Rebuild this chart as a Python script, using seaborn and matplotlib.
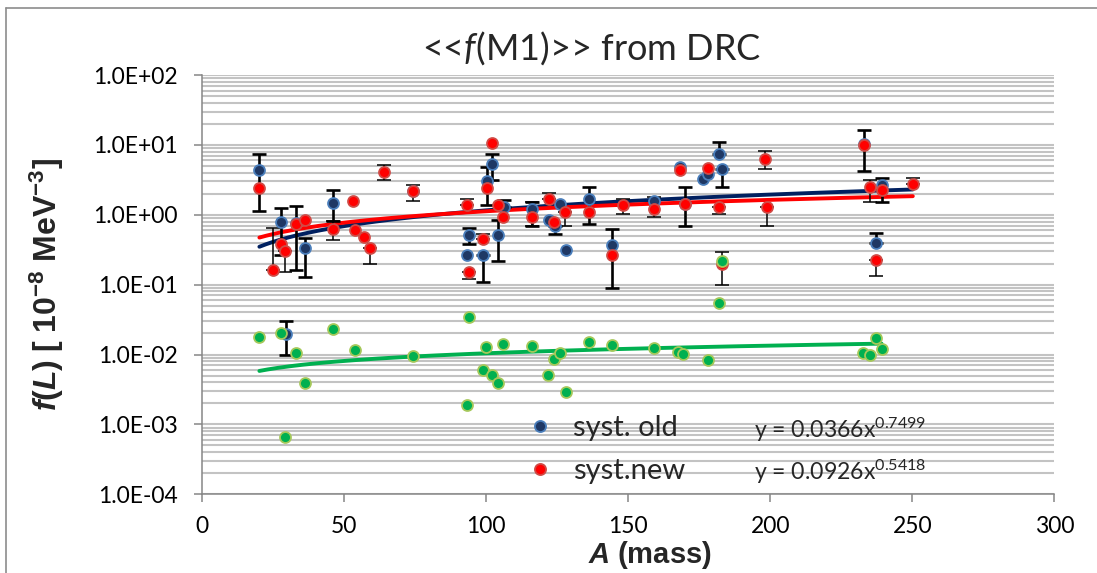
import numpy as np
import pandas as pd
import matplotlib
matplotlib.use("Agg")
import matplotlib.pyplot as plt
import seaborn as sns
from matplotlib.lines import Line2D
from matplotlib.ticker import FixedLocator, FuncFormatter, LogLocator, NullFormatter

nan = np.nan

# ---------------- data ----------------
old_x = [20.2, 27.9, 29.6, 33.0, 36.3, 46.2, 74.2, 93.2, 94.1, 99.0, 100.2, 102.0, 104.1, 106.3, 116.1,
         122.1, 124.1, 126.0, 128.0, 136.2, 144.2, 159.2, 168.3, 170.0, 176.2, 178.2, 182.1, 182.9,
         233.1, 237.2, 239.2]
old_y = [4.30, 0.784, 0.0199, 0.751, 0.333, 1.49, 2.20, 0.262, 0.521, 0.262, 3.09, 5.37, 0.521, 1.31, 1.22,
         0.83, 0.68, 1.44, 0.309, 1.69, 0.364, 1.60, 4.80, 1.44, 3.20, 3.86, 7.29, 4.45,
         10.4, 0.392, 2.69]
old_lo = [1.15, 0.262, 0.00993, 0.160, 0.128, 0.81, nan, nan, 0.385, 0.109, 1.36, 3.17, 0.217, nan, 0.68,
          nan, 0.535, nan, nan, 0.73, 0.089, nan, nan, 0.70, nan, nan, nan, 2.48,
          4.2, nan, 1.53]
old_hi = [7.29, 1.26, 0.0298, 1.33, 0.47, 2.23, nan, nan, 0.652, nan, 4.8, 7.46, 0.83, 1.64, 1.51,
          nan, nan, nan, nan, 2.48, 0.63, nan, nan, 2.48, nan, nan, 10.9, nan,
          16.1, 0.553, 3.34]

new_x = [20.2, 25.1, 27.9, 29.1, 33.0, 36.3, 46.2, 53.0, 54.0, 57.1, 59.0, 64.2, 74.2, 93.2, 94.1,
         99.0, 100.2, 102.0, 104.1, 106.1, 116.1, 122.1, 124.0, 127.7, 136.2, 144.2, 148.1, 159.2,
         168.1, 170.0, 178.2, 182.1, 183.0, 198.1, 199.0, 233.1, 235.1, 237.2, 239.2, 250.2]
new_y = [2.43, 0.163, 0.385, 0.301, 0.727, 0.848, 0.616, 1.55, 0.596, 0.478, 0.333, 4.07, 2.18, 1.40, 0.151,
         0.443, 2.43, 10.6, 1.36, 0.924, 0.924, 1.66, 0.784, 1.09, 1.09, 0.27, 1.36, 1.22,
         4.30, 1.44, 4.64, 1.31, 0.199, 6.33, 1.31, 9.80, 2.48, 0.229, 2.23, 2.78]
new_lo = [nan, nan, nan, 0.151, nan, nan, 0.429, nan, nan, nan, 0.199, 3.1, 1.6, nan, 0.122,
          nan, nan, nan, nan, nan, 0.68, nan, nan, 0.70, nan, nan, 1.03, 0.92,
          nan, nan, nan, 1.03, 0.10, 4.45, 0.70, nan, 1.51, 0.131, nan, nan]
new_hi = [nan, 0.652, nan, nan, nan, nan, 0.81, nan, nan, nan, nan, 5.07, 2.71, 1.69, nan,
          0.535, nan, nan, nan, nan, 1.51, 2.06, nan, nan, nan, nan, 1.69, 1.79,
          nan, nan, nan, nan, 0.292, 8.13, nan, nan, 3.10, nan, nan, 3.38]

green_x = [20.2, 27.9, 29.1, 33.1, 36.3, 46.2, 54.0, 74.2, 94.1, 93.2, 100.0, 99.0, 102.1, 104.1, 106.1,
           116.1, 121.9, 123.9, 126.0, 128.0, 136.2, 144.2, 159.2, 167.7, 169.2, 178.2, 182.1, 183.0,
           232.8, 235.1, 237.2, 239.2]
green_y = [0.0177, 0.0202, 0.000658, 0.0106, 0.00395, 0.0234, 0.0118, 0.0094, 0.0343, 0.00187, 0.0128,
           0.00593, 0.00502, 0.00395, 0.0143, 0.0132, 0.00502, 0.0087, 0.0106, 0.0029, 0.0150, 0.0135,
           0.0124, 0.0108, 0.0103, 0.00824, 0.0544, 0.22, 0.0106, 0.0097, 0.0172, 0.0121]

# power-law trendline coefficients y = a * x^b
old_fit = (0.0366, 0.7499)
new_fit = (0.0926, 0.5418)
green_fit = (0.00195, 0.364)

legend_labels = ["syst. old", "syst.new"]
eq_labels = [r"y = 0.0366x$^{0.7499}$", r"y = 0.0926x$^{0.5418}$"]
title_text = r"<<$\mathit{f}$(M1)>> from DRC"
x_label = r"$\mathbfit{A}\ \mathbf{(mass)}$"
y_label = r"$\mathbfit{f}\mathbf{(}\mathbfit{L}\mathbf{)\ [\ 10^{-8}\ MeV^{-3}]}$"
x_ticks = [0, 50, 100, 150, 200, 250, 300]
y_ticks = [1e-4, 1e-3, 1e-2, 1e-1, 1e0, 1e1, 1e2]

# ---------------- style ----------------
sns.set_theme(style="white")
plt.rcParams['font.family'] = ['Lato', 'DejaVu Sans']
plt.rcParams['mathtext.fontset'] = 'custom'
plt.rcParams['mathtext.rm'] = 'Lato'
plt.rcParams['mathtext.it'] = 'Lato:italic'
plt.rcParams['mathtext.bf'] = 'Liberation Sans:bold'
try:
    plt.rcParams['mathtext.bfit'] = 'Liberation Sans:bold:italic'
except KeyError:
    pass

C_OLD_FACE, C_OLD_EDGE, C_OLD_LINE = '#1f3864', '#4a7ebb', '#002060'
C_NEW_FACE, C_NEW_EDGE, C_NEW_LINE = '#ff0000', '#d04a45', '#ff0000'
C_GR_FACE, C_GR_EDGE, C_GR_LINE = '#00b050', '#a5c85a', '#00b050'
AX_GRAY = '#868686'

fig = plt.figure(figsize=(10.97, 5.73), dpi=100)
ax = fig.add_axes([202 / 1097, (573 - 494.3) / 573, (1054.3 - 202) / 1097, (494.3 - 75) / 573])

ax.set_yscale('log')
ax.set_xlim(0, 300)
ax.set_ylim(1e-4, 1e2)

# gridlines (major + minor, horizontal only)
ax.yaxis.set_major_locator(FixedLocator(y_ticks))
ax.yaxis.set_minor_locator(LogLocator(base=10, subs=np.arange(2, 10), numticks=50))
ax.yaxis.set_minor_formatter(NullFormatter())
ax.yaxis.set_major_formatter(FuncFormatter(lambda v, p: f"{v:.1E}"))
ax.xaxis.set_major_locator(FixedLocator(x_ticks))
ax.grid(False)
ax.grid(True, which='both', axis='y', color='#c3c3c3', linewidth=1.5, zorder=0)
ax.set_axisbelow(True)

# trend lines
def trend(fit, xs_all):
    xs = np.linspace(min(xs_all), max(xs_all), 300)
    return xs, fit[0] * xs ** fit[1]

tx, ty = trend(old_fit, old_x + new_x)
sns.lineplot(x=tx, y=ty, color=C_OLD_LINE, linewidth=2.8, ax=ax, zorder=2)
tx, ty = trend(new_fit, old_x + new_x)
sns.lineplot(x=tx, y=ty, color=C_NEW_LINE, linewidth=2.8, ax=ax, zorder=2.1)
tx, ty = trend(green_fit, green_x)
sns.lineplot(x=tx, y=ty, color=C_GR_LINE, linewidth=2.8, ax=ax, zorder=2.2)

# error bars
def errbars(xv, yv, lo, hi, lw, z):
    xv, yv, lo, hi = map(np.asarray, (xv, yv, lo, hi))
    m = ~(np.isnan(lo) & np.isnan(hi))
    lo2 = np.where(np.isnan(lo), yv, lo)[m]
    hi2 = np.where(np.isnan(hi), yv, hi)[m]
    ax.errorbar(xv[m], yv[m], yerr=[yv[m] - lo2, hi2 - yv[m]], fmt='none', ecolor='black',
                elinewidth=lw, capsize=5, capthick=lw, zorder=z)

errbars(old_x, old_y, old_lo, old_hi, 1.9, 3)
errbars(new_x, new_y, new_lo, new_hi, 1.1, 3.1)

# markers
df_old = pd.DataFrame({'A': old_x, 'f': old_y})
df_new = pd.DataFrame({'A': new_x, 'f': new_y})
df_gr = pd.DataFrame({'A': green_x, 'f': green_y})
sns.scatterplot(data=df_old, x='A', y='f', color=C_OLD_FACE, edgecolor=C_OLD_EDGE, linewidth=1.3,
                s=62, ax=ax, zorder=4, legend=False)
sns.scatterplot(data=df_new, x='A', y='f', color=C_NEW_FACE, edgecolor=C_NEW_EDGE, linewidth=1.3,
                s=62, ax=ax, zorder=5, legend=False)
sns.scatterplot(data=df_gr, x='A', y='f', color=C_GR_FACE, edgecolor=C_GR_EDGE, linewidth=1.3,
                s=62, ax=ax, zorder=6, legend=False)

ax.set_xlabel('')
ax.set_ylabel('')

# spines and ticks
for s in ['top', 'right']:
    ax.spines[s].set_visible(False)
for s in ['left', 'bottom']:
    ax.spines[s].set_color(AX_GRAY)
    ax.spines[s].set_linewidth(1.1)
ax.tick_params(axis='both', which='major', direction='out', length=5.5, width=1.1, color=AX_GRAY,
               labelsize=16.5, labelcolor='black', left=True, bottom=True)
ax.tick_params(axis='y', which='major', pad=12)
ax.tick_params(axis='x', which='major', pad=10)
ax.tick_params(axis='y', which='minor', length=0)

# legend
handles = [Line2D([], [], ls='', marker='o', markersize=8, markerfacecolor=C_OLD_FACE,
                  markeredgecolor=C_OLD_EDGE, markeredgewidth=1.3),
           Line2D([], [], ls='', marker='o', markersize=8, markerfacecolor=C_NEW_FACE,
                  markeredgecolor=C_NEW_EDGE, markeredgewidth=1.3)]
leg = ax.legend(handles, legend_labels, loc='center left', bbox_to_anchor=(525.4 / 1097, 1 - 449.5 / 573),
                bbox_transform=fig.transFigure, frameon=False, fontsize=21, handlelength=1.0,
                handletextpad=0.63, labelspacing=0.6, borderpad=0, borderaxespad=0)
leg.set_zorder(10)

# trendline equations
for lab, py in zip(eq_labels, [430, 472]):
    fig.text(754 / 1097, 1 - py / 573, lab, fontsize=16.6, ha='left', va='center', zorder=11)

# title and axis labels
fig.text(592 / 1097, 1 - 48 / 573, title_text, fontsize=26, ha='center', va='center')
fig.text(650 / 1097, 1 - 555 / 573, x_label, fontsize=21, ha='center', va='center')
fig.text(47 / 1097, 1 - 285 / 573, y_label, fontsize=23, rotation=90, ha='center', va='center')

# chart-area border (top and left edges visible)
fig.add_artist(Line2D([6 / 1097, 6 / 1097], [0, 1 - 8 / 573], transform=fig.transFigure,
                      color='#8c8c8c', linewidth=1.2))
fig.add_artist(Line2D([6 / 1097, 1], [1 - 8 / 573, 1 - 8 / 573], transform=fig.transFigure,
                      color='#8c8c8c', linewidth=1.2))

fig.savefig('out.png', dpi=100)
